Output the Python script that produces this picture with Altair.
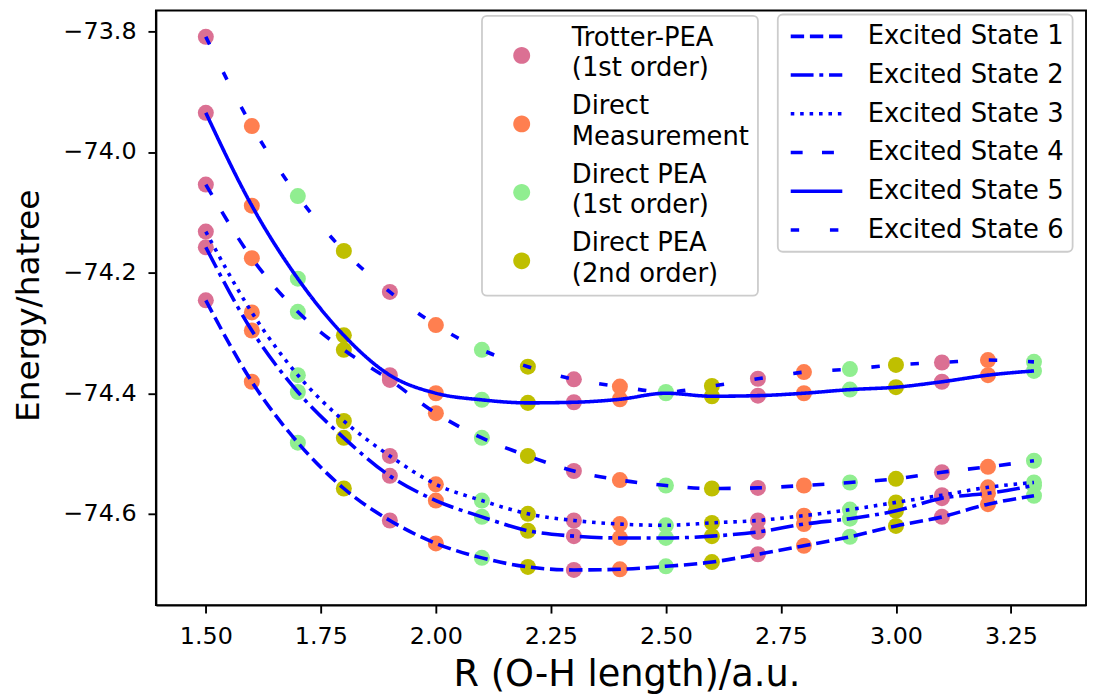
import altair as alt
import pandas as pd

R = [1.5, 1.6, 1.7, 1.8, 1.9, 2.0, 2.1, 2.2, 2.3, 2.4, 2.5, 2.6, 2.7, 2.8, 2.9, 3.0, 3.1, 3.2, 3.3]

state1 = [-74.246, -74.381, -74.482, -74.558, -74.611, -74.649, -74.673, -74.688, -74.693, -74.692,
          -74.687, -74.680, -74.667, -74.653, -74.638, -74.620, -74.605, -74.584, -74.570]
state2 = [-74.158, -74.296, -74.398, -74.474, -74.537, -74.578, -74.605, -74.628, -74.637, -74.640,
          -74.640, -74.637, -74.630, -74.617, -74.608, -74.595, -74.574, -74.566, -74.553]
state3 = [-74.132, -74.266, -74.370, -74.446, -74.504, -74.551, -74.578, -74.600, -74.611, -74.617,
          -74.619, -74.615, -74.611, -74.603, -74.593, -74.581, -74.569, -74.556, -74.548]
state4 = [-74.054, -74.176, -74.265, -74.328, -74.378, -74.433, -74.474, -74.504, -74.529, -74.544,
          -74.553, -74.558, -74.557, -74.553, -74.548, -74.542, -74.531, -74.522, -74.512]
state5 = [-73.935, -74.089, -74.210, -74.304, -74.370, -74.400, -74.411, -74.416, -74.415, -74.410,
          -74.400, -74.405, -74.404, -74.400, -74.394, -74.390, -74.381, -74.370, -74.363]
state6 = [-73.809, -73.957, -74.073, -74.164, -74.232, -74.287, -74.328, -74.356, -74.377, -74.389,
          -74.398, -74.388, -74.376, -74.365, -74.360, -74.353, -74.349, -74.345, -74.348]

state_names = ["Excited State 1", "Excited State 2", "Excited State 3",
               "Excited State 4", "Excited State 5", "Excited State 6"]
state_dashes = [[13.5, 5.8], [23, 5.8, 4, 5.8], [3.6, 5.9], [12, 19.5], [1, 0], [8.5, 31]]

methods = ["Trotter-PEA|(1st order)", "Direct|Measurement",
           "Direct PEA|(1st order)", "Direct PEA|(2nd order)"]
method_colors = ["#DB7093", "#FF7F50", "#90EE90", "#BFBF00"]

point_method = [methods[0], methods[1], methods[2], methods[3],
                methods[0], methods[1], methods[2], methods[3],
                methods[0], methods[1], methods[2], methods[3],
                methods[0], methods[1], methods[2], methods[3],
                methods[0], methods[1], methods[2]]

x_ticks = [1.5, 1.75, 2.0, 2.25, 2.5, 2.75, 3.0, 3.25]
y_ticks = [-74.6, -74.4, -74.2, -74.0, -73.8]

states = [state1, state2, state3, state4, state5, state6]
rows = []
for i, r in enumerate(R):
    for name, vals in zip(state_names, states):
        rows.append({"R": r, "state": name, "E": vals[i], "method": point_method[i]})
df = pd.DataFrame(rows)

FONT = "DejaVu Sans"

xscale = alt.Scale(domain=[1.3915, 3.4131], nice=False, zero=False)
yscale = alt.Scale(domain=[-74.7514, -73.7654], nice=False, zero=False)

x_axis = alt.Axis(values=x_ticks, format=".2f", title="R (O-H length)/a.u.", grid=False,
                  domainColor="black", domainWidth=1.9, tickColor="black", tickWidth=1.9,
                  tickSize=8, labelPadding=12, labelFont=FONT, labelFontSize=24,
                  labelColor="black", labelFlush=False, titleFont=FONT, titleFontSize=37,
                  titleFontWeight="normal", titleColor="black", titleY=81, titleX=474,
                  titleBaseline="alphabetic")
y_axis = alt.Axis(values=y_ticks, format=".1f", title="Energy/hatree", grid=False,
                  domainColor="black", domainWidth=1.9, tickColor="black", tickWidth=1.9,
                  tickSize=8, labelPadding=12, labelFont=FONT, labelFontSize=24,
                  labelColor="black", labelFlush=False, titleFont=FONT, titleFontSize=33,
                  titleFontWeight="normal", titleColor="black", titleX=-118, titleY=297,
                  titleBaseline="alphabetic")

# circle legend symbol drawn a little below the first label line, so that it sits
# between the two lines of each label
lowered_circle = "M-1,2.1A1,1,0,1,1,1,2.1A1,1,0,1,1,-1,2.1Z"

points = alt.Chart(df).mark_circle(size=260, opacity=1).encode(
    x=alt.X("R:Q", scale=xscale, axis=x_axis),
    y=alt.Y("E:Q", scale=yscale, axis=y_axis),
    color=alt.Color("method:N", scale=alt.Scale(domain=methods, range=method_colors),
                    legend=alt.Legend(title=None, orient="none", legendX=328.5, legendY=5.3,
                                      padding=9, strokeColor="#cccccc", cornerRadius=5,
                                      fillColor="white", symbolType=lowered_circle,
                                      symbolSize=290, symbolOffset=18, labelOffset=37.5,
                                      labelFont=FONT, labelFontSize=26, labelColor="black",
                                      labelLimit=400, rowPadding=12, symbolStrokeWidth=0,
                                      symbolOpacity=1,
                                      labelExpr="split(datum.label, '|')")),
)

lines = alt.Chart(df).mark_line(strokeWidth=3.6, color="#0000ff", interpolate="monotone",
                                strokeCap="butt").encode(
    x=alt.X("R:Q", scale=xscale, axis=x_axis),
    y=alt.Y("E:Q", scale=yscale, axis=y_axis),
    strokeDash=alt.StrokeDash("state:N", scale=alt.Scale(domain=state_names, range=state_dashes),
                              legend=alt.Legend(title=None, orient="none", legendX=626.5,
                                                legendY=4, padding=9, strokeColor="#cccccc",
                                                cornerRadius=5, fillColor="white",
                                                symbolType="M-3,0H3", symbolSize=300,
                                                symbolStrokeColor="#0000ff",
                                                symbolFillColor="transparent",
                                                symbolStrokeWidth=3.6, symbolOffset=17,
                                                labelOffset=38.5, labelFont=FONT,
                                                labelFontSize=26, labelColor="black",
                                                labelLimit=400, rowPadding=13)),
)

chart = alt.layer(points, lines).properties(
    width=937, height=599,
    padding={"left": 149, "top": 0, "right": 2, "bottom": 92},
    autosize=alt.AutoSizeParams(type="none"),
).configure(
    font=FONT, style={"guide-label": {"lineHeight": 31}}
).configure_view(stroke="black", strokeWidth=1.9).configure_legend(strokeWidth=1.8)

chart.save("out.html", embed_options={"renderer": "svg", "actions": False})
